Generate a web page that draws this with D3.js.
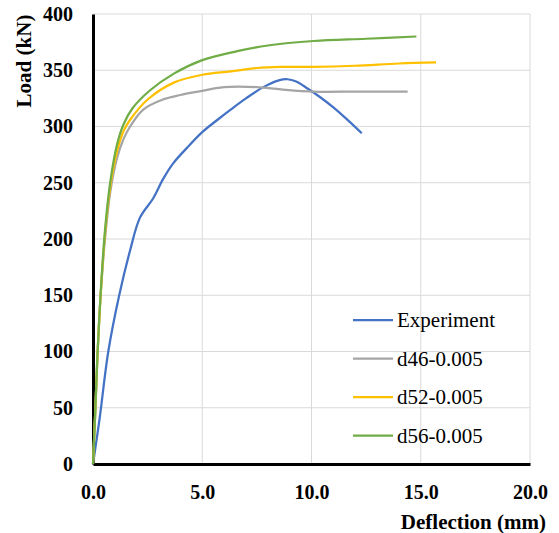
<!DOCTYPE html>
<html>
<head>
<meta charset="utf-8">
<script src="https://cdn.jsdelivr.net/npm/d3@7"></script>
<style>
  body { margin: 0; background: #fff; }
  text { font-family: "Liberation Serif", "Times New Roman", serif; }
</style>
</head>
<body>
<div id="container"></div>
<script>
/* CONSTANTS AND GLOBALS */
const width = 559,
  height = 533,
  margin = {top: 14, bottom: 69, left: 93, right: 29};

// DATA (deflection mm, load kN)
const seriesNames = ["Experiment", "d46-0.005", "d52-0.005", "d56-0.005"];
const seriesColors = ["#4472C4", "#A5A5A5", "#FFC000", "#70AD47"];

const experiment = [[0,0],[0.3,40],[0.7,100],[1.2,150],[1.7,190],[2.15,219],[2.75,236],[3.2,253],
  [3.66,267],[4.3,281],[5.0,295],[5.7,306],[6.3,315],[7.0,325],[7.8,335],[8.5,341],[8.9,342],
  [9.3,340],[9.8,334],[10.4,326],[11.0,317],[11.7,305],[12.3,294]];
const d46 = [[0,0],[0.1,45],[0.2,95],[0.35,150],[0.55,200],[0.8,243],[1.1,272],[1.4,289],
  [1.7,300],[2.3,315],[3.2,324],[4.0,328],[4.8,331],[6.0,335],[7.5,335],[8.6,333],[10.1,331],
  [12.0,331],[14.4,331]];
const d52 = [[0,0],[0.1,45],[0.2,95],[0.35,150],[0.55,205],[0.8,248],[1.1,278],[1.4,296],
  [1.7,306],[2.5,324],[3.7,339],[5.0,346],[6.3,349],[7.5,352],[8.6,353],[10.1,353],
  [12.0,354],[14.0,356],[15.7,357]];
const d56 = [[0,0],[0.1,45],[0.2,95],[0.35,152],[0.55,208],[0.8,252],[1.1,284],[1.4,302],
  [1.8,316],[2.6,332],[3.7,347],[5.0,359],[6.6,367],[8.0,372],[10.1,376],[12.5,378],[14.8,380]];
const allSeries = [experiment, d46, d52, d56];

const xTicks = [0, 5, 10, 15, 20];
const yTicks = [0, 50, 100, 150, 200, 250, 300, 350, 400];

const svg = d3.select("#container")
  .append("svg")
  .attr("width", width)
  .attr("height", height);

// Scales
const xScale = d3.scaleLinear()
  .domain([0, 20])
  .range([margin.left, width - margin.right]);

const yScale = d3.scaleLinear()
  .domain([0, 400])
  .range([height - margin.bottom, margin.top]);

// Gridlines
svg.append("g")
  .selectAll("line.v")
  .data(xTicks.slice(1))
  .join("line")
  .attr("x1", d => xScale(d)).attr("x2", d => xScale(d))
  .attr("y1", yScale(0)).attr("y2", yScale(400))
  .attr("stroke", "#d9d9d9").attr("stroke-width", 1);

svg.append("g")
  .selectAll("line.h")
  .data(yTicks.slice(1))
  .join("line")
  .attr("x1", xScale(0)).attr("x2", xScale(20))
  .attr("y1", d => yScale(d)).attr("y2", d => yScale(d))
  .attr("stroke", "#d9d9d9").attr("stroke-width", 1);

// Axis
const xAxis = d3.axisBottom(xScale)
  .tickValues(xTicks)
  .tickFormat(d3.format(".1f"))
  .tickSize(0)
  .tickPadding(21);
const gx = svg.append("g")
  .attr("transform", `translate(0, ${yScale(0)})`)
  .call(xAxis);
gx.select(".domain").attr("stroke", "#000").attr("stroke-width", 3);
gx.selectAll("text")
  .attr("font-family", null)
  .style("font-size", "20px").style("font-weight", "bold").style("fill", "#000");

const yAxis = d3.axisLeft(yScale)
  .tickValues(yTicks)
  .tickSize(0)
  .tickPadding(20);
const gy = svg.append("g")
  .attr("transform", `translate(${xScale(0)},0)`)
  .call(yAxis);
gy.select(".domain").attr("stroke", "#000").attr("stroke-width", 3);
gy.selectAll("text")
  .style("font-size", "20px").style("font-weight", "bold").style("fill", "#000");

// Lines
const lineGen = d3.line()
  .x(d => xScale(d[0]))
  .y(d => yScale(d[1]))
  .curve(d3.curveCatmullRom.alpha(0.5));

svg.append("g")
  .selectAll("path")
  .data(allSeries)
  .join("path")
  .attr("fill", "none")
  .attr("stroke", (d, i) => seriesColors[i])
  .attr("stroke-width", 2.25)
  .attr("stroke-linejoin", "round")
  .attr("d", lineGen);

// Legend
const legend = svg.append("g")
  .attr("transform", "translate(353, 320)");
const rows = legend.selectAll("g")
  .data(seriesNames)
  .join("g")
  .attr("transform", (d, i) => `translate(0, ${i * 38.5})`);
rows.append("line")
  .attr("x1", 0).attr("x2", 40)
  .attr("stroke", (d, i) => seriesColors[i])
  .attr("stroke-width", 2.25);
rows.append("text")
  .attr("x", 44)
  .attr("dy", "0.35em")
  .style("font-size", "21px")
  .style("fill", "#000")
  .text(d => d);

// Y Label
svg.append("text")
  .attr("x", -61)
  .attr("y", 24)
  .attr("transform", "rotate(-90)")
  .attr("text-anchor", "middle")
  .attr("dy", "0.35em")
  .style("font-size", "21px")
  .style("font-weight", "bold")
  .style("fill", "#000")
  .text("Load (kN)");

// X Label
svg.append("text")
  .attr("x", 546)
  .attr("y", 522)
  .attr("text-anchor", "end")
  .attr("dy", "0.35em")
  .style("font-size", "21px")
  .style("font-weight", "bold")
  .style("fill", "#000")
  .text("Deflection (mm)");
</script>
</body>
</html>
